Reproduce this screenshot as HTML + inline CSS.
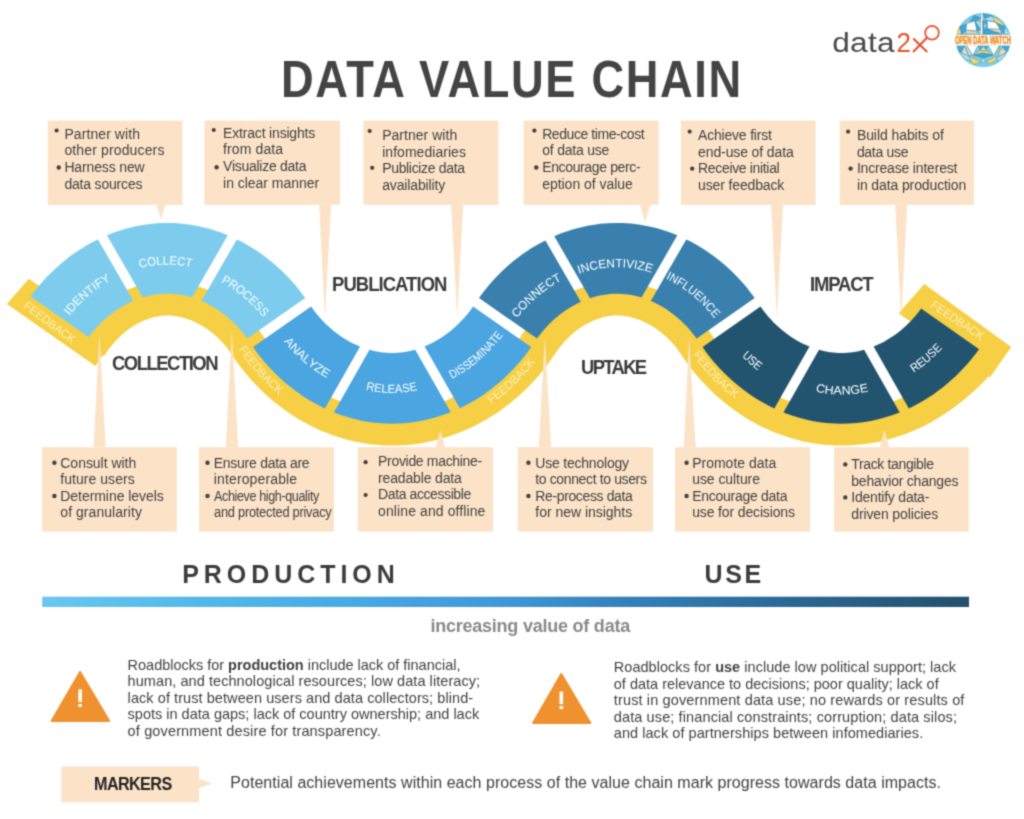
<!DOCTYPE html>
<html><head><meta charset="utf-8"><title>Data Value Chain</title>
<style>
html,body{margin:0;padding:0;background:#fff}
body{width:1024px;height:819px;position:relative;overflow:hidden;font-family:"Liberation Sans",sans-serif}
#page{position:absolute;left:0;top:0;width:1024px;height:819px;background:#fff;filter:url(#soft)}
.t{position:absolute;white-space:nowrap;line-height:1;display:block;transform-origin:0 0}
.box{position:absolute;background:#fce3c8}
.bul{position:absolute;border-radius:50%;background:#414141}

</style></head><body><svg width="0" height="0" style="position:absolute"><filter id="soft" x="0" y="0" width="100%" height="100%" color-interpolation-filters="sRGB"><feConvolveMatrix order="3" kernelMatrix="1 4 1 4 12 4 1 4 1" divisor="32" edgeMode="duplicate" preserveAlpha="true"/></filter></svg><div id="page">


<svg class="wave" width="1024" height="819" viewBox="0 0 1024 819" style="position:absolute;left:0;top:0;font-family:'Liberation Sans',sans-serif"><defs><linearGradient id="barg" x1="0" x2="1" y1="0" y2="0"><stop offset="0" stop-color="#6ac6ef"/><stop offset="0.17" stop-color="#52b8e9"/><stop offset="0.33" stop-color="#48a9e3"/><stop offset="0.5" stop-color="#3f97d8"/><stop offset="0.6" stop-color="#3585c0"/><stop offset="0.76" stop-color="#2c6e9e"/><stop offset="0.92" stop-color="#265a7c"/><stop offset="1" stop-color="#23516d"/></linearGradient></defs><rect x="47.8" y="120.6" width="134.70" height="84.30" fill="#fce3c8"/><rect x="204.4" y="120.6" width="135.60" height="84.30" fill="#fce3c8"/><rect x="363.4" y="120.6" width="135.00" height="84.30" fill="#fce3c8"/><rect x="523.6" y="120.6" width="135.00" height="84.30" fill="#fce3c8"/><rect x="680.9" y="120.6" width="134.70" height="84.30" fill="#fce3c8"/><rect x="839.7" y="120.6" width="134.30" height="84.30" fill="#fce3c8"/><rect x="41.9" y="447.2" width="135.00" height="84.40" fill="#fce3c8"/><rect x="199" y="447.2" width="135.00" height="84.40" fill="#fce3c8"/><rect x="357.8" y="447.2" width="135.30" height="84.40" fill="#fce3c8"/><rect x="517.8" y="447.2" width="135.30" height="84.40" fill="#fce3c8"/><rect x="675" y="447.2" width="135.00" height="84.40" fill="#fce3c8"/><rect x="834" y="447.2" width="134.75" height="84.40" fill="#fce3c8"/><rect x="42.2" y="596.7" width="926.8" height="10.3" fill="url(#barg)"/><rect x="61.4" y="766.4" width="137.6" height="35.8" fill="#fce3c8"/><path d="M199,779 L212.5,783.5 L199,788Z" fill="#fce3c8"/><path d="M6.9,304.0 L95.4,365.9 L103.0,355.1 L104.3,355.9 L107.8,350.6 L111.4,345.9 L115.2,341.4 L119.3,337.2 L121.9,334.8 L124.4,332.7 L126.9,330.6 L129.5,328.7 L132.3,326.8 L135.0,325.1 L137.7,323.6 L140.5,322.1 L143.5,320.8 L146.6,319.5 L149.6,318.5 L152.7,317.5 L155.7,316.8 L158.7,316.2 L161.7,315.8 L164.9,315.6 L167.8,315.5 L171.0,315.6 L174.2,315.9 L177.2,316.4 L180.5,317.0 L183.6,317.8 L186.7,318.7 L189.7,319.8 L193.3,321.2 L196.8,322.9 L200.3,324.7 L203.7,326.7 L207.1,329.0 L210.4,331.4 L213.6,334.0 L216.7,336.7 L219.2,339.1 L221.5,341.5 L223.8,344.0 L225.8,346.5 L229.3,351.0 L236.5,361.4 L239.4,365.4 L242.4,369.3 L245.8,373.6 L249.4,377.8 L253.2,382.0 L256.6,385.6 L260.9,390.0 L265.0,393.9 L269.6,398.1 L273.9,401.7 L278.9,405.6 L283.4,409.0 L288.0,412.3 L292.8,415.5 L298.2,418.9 L303.7,422.1 L309.4,425.1 L314.6,427.7 L320.4,430.4 L325.8,432.6 L331.9,434.9 L337.5,436.8 L343.8,438.8 L349.5,440.3 L355.3,441.7 L361.2,442.8 L367.2,443.8 L373.2,444.6 L379.2,445.1 L384.6,445.5 L390.7,445.6 L397.6,445.5 L403.7,445.2 L410.4,444.7 L416.4,443.9 L423.0,442.9 L429.6,441.6 L436.0,440.1 L442.4,438.4 L448.7,436.5 L454.9,434.3 L460.9,432.0 L466.9,429.5 L473.4,426.4 L479.1,423.5 L485.3,420.1 L490.8,416.8 L496.1,413.4 L501.4,409.8 L507.0,405.6 L511.9,401.7 L517.2,397.3 L521.9,393.1 L526.9,388.3 L530.8,384.3 L535.1,379.7 L539.2,375.1 L543.1,370.3 L546.5,365.9 L550.2,360.9 L557.9,349.7 L559.9,347.0 L562.1,344.4 L564.8,341.2 L567.5,338.4 L570.5,335.5 L573.4,333.0 L577.6,329.7 L581.8,326.8 L586.0,324.2 L590.4,321.9 L594.8,320.0 L599.3,318.4 L603.7,317.1 L608.4,316.2 L611.4,315.8 L614.6,315.6 L617.5,315.5 L620.6,315.6 L623.9,315.9 L627.1,316.4 L630.4,317.1 L633.5,317.9 L636.8,318.9 L639.9,320.0 L643.2,321.4 L646.2,322.9 L649.5,324.6 L652.5,326.3 L655.4,328.2 L658.3,330.2 L662.4,333.4 L666.2,336.7 L669.8,340.3 L673.2,344.0 L675.8,347.1 L678.1,350.1 L679.9,352.7 L683.8,358.4 L687.0,362.9 L690.3,367.3 L693.7,371.7 L697.7,376.4 L701.7,381.1 L706.0,385.6 L709.9,389.6 L714.4,393.9 L719.1,398.1 L723.9,402.1 L728.8,406.0 L733.8,409.8 L739.0,413.4 L744.4,416.9 L749.8,420.2 L754.8,423.0 L759.4,425.4 L764.0,427.7 L768.7,429.8 L773.5,431.9 L778.3,433.8 L783.2,435.6 L788.2,437.2 L793.2,438.8 L798.3,440.1 L803.5,441.4 L808.0,442.3 L813.3,443.3 L818.6,444.1 L823.9,444.7 L828.6,445.1 L835.4,445.5 L841.5,445.6 L847.7,445.5 L854.4,445.1 L860.5,444.6 L867.2,443.8 L873.8,442.7 L880.3,441.4 L886.7,439.8 L893.1,438.0 L899.3,436.1 L905.5,433.9 L911.6,431.5 L917.5,428.9 L923.4,426.2 L929.7,422.9 L936.4,419.1 L943.4,414.8 L949.8,410.5 L956.9,405.3 L961.4,401.8 L965.8,398.2 L970.1,394.6 L973.9,391.2 L978.0,387.3 L981.6,383.8 L985.1,380.2 L988.7,376.3 L990.0,377.3 L1011.3,347.0 L924.3,284.0 L898.6,313.2 L957.1,354.3 L953.8,358.1 L950.3,361.9 L946.7,365.7 L943.4,368.9 L939.6,372.4 L935.6,375.8 L931.6,379.1 L927.9,381.9 L923.6,385.0 L919.7,387.6 L915.3,390.4 L911.2,392.8 L906.5,395.3 L902.3,397.4 L898.0,399.4 L893.6,401.3 L889.1,403.0 L884.6,404.6 L880.0,406.1 L875.8,407.2 L871.1,408.4 L866.4,409.4 L861.6,410.2 L857.3,410.8 L852.4,411.3 L848.1,411.5 L843.2,411.7 L838.8,411.7 L834.4,411.5 L829.6,411.2 L825.2,410.7 L820.4,410.0 L816.2,409.3 L811.4,408.2 L807.2,407.2 L802.6,405.9 L798.5,404.6 L794.0,403.0 L790.0,401.5 L785.6,399.7 L781.7,397.9 L777.5,395.8 L773.3,393.6 L769.2,391.2 L765.1,388.7 L761.2,386.2 L757.3,383.5 L753.5,380.7 L750.2,378.1 L747.0,375.5 L743.9,372.8 L740.8,370.0 L734.9,364.2 L729.3,358.1 L724.6,352.7 L719.9,346.6 L715.7,340.8 L711.1,333.9 L707.1,328.5 L704.7,325.5 L702.4,322.8 L697.6,317.6 L694.6,314.6 L691.8,312.0 L688.6,309.2 L685.6,306.7 L682.2,304.2 L679.1,301.9 L675.6,299.6 L672.4,297.6 L668.4,295.3 L664.4,293.2 L660.3,291.3 L656.5,289.6 L652.3,288.0 L648.4,286.7 L644.2,285.4 L640.2,284.4 L635.9,283.5 L631.6,282.7 L627.3,282.2 L623.3,281.8 L619.0,281.6 L615.0,281.6 L611.1,281.8 L606.7,282.1 L603.1,282.6 L599.5,283.1 L595.9,283.8 L592.0,284.7 L588.4,285.7 L584.5,286.9 L581.0,288.1 L577.1,289.6 L573.7,291.1 L570.3,292.7 L566.9,294.4 L563.2,296.4 L560.0,298.4 L556.4,300.6 L553.3,302.8 L549.9,305.3 L545.1,309.2 L540.2,313.6 L535.5,318.2 L531.0,323.1 L527.7,327.0 L524.4,331.3 L522.1,334.5 L519.1,339.1 L516.5,342.9 L513.5,347.0 L510.6,350.7 L507.4,354.6 L504.0,358.5 L500.5,362.3 L497.3,365.7 L493.2,369.6 L489.4,373.1 L485.4,376.5 L481.4,379.7 L477.2,382.9 L472.9,385.9 L468.5,388.7 L464.0,391.5 L459.4,394.1 L454.8,396.5 L450.0,398.8 L445.1,400.9 L440.2,402.9 L435.6,404.5 L430.5,406.1 L425.9,407.4 L420.6,408.6 L415.9,409.6 L411.1,410.3 L406.2,410.9 L401.4,411.4 L396.5,411.6 L391.6,411.7 L386.6,411.6 L382.3,411.3 L377.4,410.9 L372.6,410.3 L367.8,409.5 L363.0,408.5 L358.3,407.4 L353.7,406.1 L349.1,404.6 L344.5,403.0 L340.1,401.3 L335.7,399.4 L330.9,397.2 L326.6,395.1 L322.0,392.5 L317.5,389.9 L313.0,387.0 L309.2,384.4 L305.3,381.6 L301.6,378.8 L297.6,375.5 L294.1,372.4 L290.6,369.3 L287.3,366.0 L283.7,362.3 L280.9,359.3 L277.8,355.8 L274.9,352.3 L272.0,348.7 L267.1,342.1 L262.1,334.5 L260.5,332.3 L257.7,328.5 L255.0,325.2 L251.4,321.0 L247.6,317.1 L243.7,313.3 L240.0,309.9 L234.9,305.8 L229.7,301.9 L224.2,298.4 L218.6,295.1 L212.9,292.2 L207.1,289.6 L201.1,287.4 L195.5,285.6 L191.9,284.7 L188.3,283.8 L184.7,283.1 L181.1,282.6 L177.5,282.1 L173.9,281.8 L170.3,281.7 L166.7,281.6 L163.1,281.7 L159.5,281.9 L155.9,282.3 L152.2,282.8 L148.6,283.4 L145.0,284.1 L141.5,285.0 L137.9,286.0 L134.4,287.1 L130.8,288.4 L127.4,289.8 L123.9,291.3 L120.5,292.9 L117.1,294.6 L113.8,296.4 L110.2,298.6 L107.0,300.6 L103.9,302.8 L100.8,305.1 L97.4,307.7 L94.5,310.2 L91.3,313.0 L88.5,315.7 L85.7,318.6 L28.8,278.7Z" fill="#f6cf45"/><path d="M98.0,239.4 L93.1,241.8 L88.1,244.5 L83.3,247.4 L78.5,250.5 L74.3,253.3 L69.7,256.6 L65.3,260.1 L61.0,263.7 L56.8,267.3 L52.7,271.2 L48.7,275.1 L44.9,279.1 L41.2,283.2 L37.6,287.5 L34.1,291.8 L30.6,296.5 L88.6,337.1 L90.7,334.3 L93.2,331.3 L95.7,328.4 L98.3,325.6 L101.0,322.9 L103.7,320.3 L106.6,317.8 L109.2,315.6 L112.2,313.3 L114.9,311.3 L118.0,309.2 L120.9,307.4 L124.1,305.5 L127.1,303.9 L130.3,302.3 L133.4,300.9Z" fill="#7dccee"/><path d="M227.8,235.3 L220.2,232.3 L213.1,229.9 L209.2,228.8 L205.2,227.7 L197.8,226.0 L190.4,224.7 L182.8,223.7 L175.1,223.1 L167.4,222.9 L159.7,223.1 L152.0,223.7 L144.4,224.7 L136.9,226.0 L129.5,227.7 L125.6,228.8 L121.7,229.9 L117.9,231.2 L114.1,232.5 L106.9,235.3 L142.8,297.5 L145.7,296.6 L148.9,295.9 L152.0,295.2 L155.2,294.6 L158.3,294.2 L161.5,293.9 L164.6,293.7 L167.4,293.7 L170.2,293.7 L173.3,293.9 L176.5,294.2 L179.6,294.6 L182.8,295.2 L185.9,295.9 L189.0,296.6 L192.0,297.5Z" fill="#7dccee"/><path d="M305.2,298.0 L301.3,292.7 L297.9,288.3 L294.3,284.1 L290.7,279.9 L286.5,275.5 L282.5,271.5 L278.4,267.7 L274.2,264.0 L269.9,260.4 L265.5,257.0 L261.0,253.7 L256.3,250.5 L251.5,247.4 L246.6,244.5 L241.7,241.8 L236.8,239.4 L201.4,300.9 L204.4,302.3 L207.7,303.9 L211.0,305.7 L214.2,307.6 L217.3,309.5 L220.4,311.7 L223.4,313.9 L226.4,316.2 L229.3,318.7 L232.1,321.2 L234.8,323.9 L237.5,326.6 L240.0,329.5 L242.5,332.4 L244.9,335.4 L247.3,338.6Z" fill="#7dccee"/><path d="M360.1,346.6 L356.6,345.1 L353.0,343.4 L349.7,341.7 L346.2,339.7 L343.0,337.7 L339.7,335.5 L336.3,333.0 L333.1,330.5 L330.2,328.1 L327.2,325.3 L324.2,322.4 L321.3,319.3 L318.8,316.5 L316.1,313.3 L313.5,309.9 L311.1,306.5 L253.1,347.1 L256.5,351.9 L260.2,356.7 L264.1,361.4 L268.1,366.0 L272.3,370.5 L276.6,374.8 L281.1,379.0 L285.2,382.7 L290.0,386.6 L294.4,390.1 L299.5,393.7 L304.1,396.9 L309.4,400.2 L314.3,403.0 L319.4,405.7 L324.9,408.4Z" fill="#4aa5e0"/><path d="M415.2,349.7 L411.9,350.6 L409.0,351.2 L403.4,352.2 L397.7,352.8 L394.9,353.0 L392.1,353.0 L389.3,353.0 L386.5,352.8 L380.8,352.2 L375.2,351.2 L369.5,349.8 L333.9,412.4 L340.9,415.0 L348.1,417.3 L355.4,419.3 L362.8,420.9 L370.3,422.2 L377.3,423.1 L385.0,423.6 L392.1,423.8 L399.2,423.6 L406.9,423.1 L414.5,422.1 L422.0,420.8 L429.4,419.1 L436.7,417.1 L443.8,414.8 L450.8,412.2Z" fill="#4aa5e0"/><path d="M473.1,306.5 L470.5,310.2 L467.9,313.5 L465.2,316.7 L462.6,319.6 L459.8,322.6 L457.0,325.3 L454.0,328.1 L451.1,330.5 L447.9,333.0 L444.8,335.3 L441.5,337.6 L438.3,339.5 L434.8,341.5 L431.6,343.3 L428.2,344.8 L424.6,346.4 L459.8,408.2 L464.9,405.7 L469.9,403.0 L474.8,400.2 L480.1,396.9 L484.8,393.7 L489.8,390.1 L494.2,386.6 L499.0,382.7 L503.2,379.0 L507.6,374.8 L511.9,370.5 L516.1,366.0 L520.1,361.4 L524.0,356.7 L527.7,351.9 L531.1,347.1Z" fill="#4aa5e0"/><path d="M545.4,240.4 L540.6,242.9 L535.6,245.7 L531.2,248.3 L526.5,251.4 L522.3,254.3 L517.8,257.7 L513.4,261.1 L509.1,264.7 L504.9,268.5 L500.9,272.3 L497.0,276.3 L493.2,280.3 L489.5,284.5 L486.0,288.7 L482.6,293.1 L479.0,298.0 L537.0,338.6 L539.1,335.7 L541.5,332.7 L544.0,329.7 L546.5,326.9 L549.2,324.1 L551.6,321.7 L554.4,319.1 L557.0,316.9 L560.0,314.5 L562.7,312.5 L565.8,310.3 L568.6,308.4 L571.8,306.5 L574.7,304.9 L577.7,303.3 L580.8,301.8Z" fill="#3980ae"/><path d="M677.3,235.3 L669.6,232.3 L665.8,231.0 L661.9,229.8 L658.0,228.6 L654.1,227.6 L646.7,225.9 L642.7,225.2 L638.6,224.5 L631.0,223.6 L623.4,223.1 L615.6,222.9 L607.9,223.2 L600.3,223.8 L592.7,224.9 L588.7,225.6 L584.7,226.4 L577.3,228.2 L573.4,229.3 L569.5,230.5 L561.9,233.1 L558.1,234.6 L554.3,236.2 L590.0,298.2 L593.3,297.2 L596.4,296.3 L599.9,295.5 L603.0,294.9 L606.5,294.4 L609.6,294.0 L612.8,293.8 L615.9,293.7 L619.0,293.7 L622.1,293.9 L625.3,294.2 L628.7,294.6 L631.9,295.1 L635.0,295.8 L638.2,296.6 L641.5,297.5Z" fill="#3980ae"/><path d="M754.7,298.0 L750.7,292.7 L747.3,288.3 L743.8,284.1 L740.1,279.9 L735.9,275.5 L731.9,271.5 L727.9,267.7 L723.7,264.0 L719.4,260.4 L714.9,257.0 L710.4,253.7 L705.7,250.5 L701.0,247.4 L696.1,244.5 L691.1,241.8 L686.3,239.4 L650.8,300.9 L653.9,302.3 L657.2,303.9 L660.4,305.7 L663.6,307.6 L666.8,309.5 L669.8,311.7 L672.9,313.9 L675.8,316.2 L678.7,318.7 L681.5,321.2 L684.2,323.9 L686.9,326.6 L689.5,329.5 L691.9,332.4 L694.3,335.4 L696.7,338.6Z" fill="#3980ae"/><path d="M809.5,346.6 L806.0,345.1 L802.4,343.4 L799.1,341.7 L795.6,339.7 L792.5,337.7 L789.1,335.5 L785.8,333.0 L782.6,330.5 L779.7,328.1 L776.6,325.3 L773.6,322.4 L770.8,319.3 L768.2,316.5 L765.5,313.3 L763.0,309.9 L760.5,306.5 L702.6,347.1 L706.0,351.9 L709.7,356.7 L713.5,361.4 L717.5,366.0 L721.7,370.5 L726.0,374.8 L730.5,379.0 L734.7,382.7 L739.4,386.6 L743.9,390.1 L748.9,393.7 L753.6,396.9 L758.9,400.2 L763.8,403.0 L768.8,405.7 L774.3,408.4Z" fill="#22546f"/><path d="M864.1,349.8 L858.5,351.2 L852.8,352.2 L847.2,352.8 L844.3,353.0 L841.5,353.0 L838.7,353.0 L835.9,352.8 L830.3,352.2 L824.6,351.2 L819.0,349.8 L783.4,412.4 L790.4,415.0 L797.5,417.3 L804.8,419.3 L812.2,420.9 L819.7,422.2 L826.7,423.1 L834.4,423.6 L841.5,423.8 L848.7,423.6 L856.3,423.1 L863.3,422.2 L870.8,420.9 L878.3,419.3 L885.5,417.3 L892.7,415.0 L899.7,412.4Z" fill="#22546f"/><path d="M921.1,308.6 L918.4,312.2 L916.0,315.2 L913.5,318.1 L910.9,320.9 L908.0,323.8 L905.2,326.4 L902.4,329.0 L899.5,331.4 L896.2,333.9 L893.2,336.0 L890.0,338.1 L886.9,340.0 L883.7,341.9 L880.4,343.5 L877.1,345.1 L873.6,346.6 L908.8,408.4 L913.8,406.0 L918.8,403.3 L923.7,400.5 L928.5,397.5 L933.3,394.4 L937.8,391.1 L942.3,387.7 L947.1,383.8 L951.3,380.1 L955.9,376.0 L959.8,372.1 L964.0,367.6 L967.8,363.5 L971.7,358.8 L975.5,354.1 L979.1,349.2Z" fill="#22546f"/><g font-size="12" fill="#fff" opacity="1"><text transform="translate(70.50,314.38) rotate(-50.6) scale(1.003,1)" text-anchor="middle">I</text><text transform="translate(74.41,309.81) rotate(-48.2) scale(1.003,1)" text-anchor="middle">D</text><text transform="translate(80.16,303.73) rotate(-45.0) scale(1.003,1)" text-anchor="middle">E</text><text transform="translate(86.24,298.00) rotate(-41.6) scale(1.003,1)" text-anchor="middle">N</text><text transform="translate(92.39,292.85) rotate(-38.3) scale(1.003,1)" text-anchor="middle">T</text><text transform="translate(96.65,289.61) rotate(-36.1) scale(1.003,1)" text-anchor="middle">I</text><text transform="translate(101.03,286.54) rotate(-33.9) scale(1.003,1)" text-anchor="middle">F</text><text transform="translate(107.53,282.44) rotate(-30.6) scale(1.003,1)" text-anchor="middle">Y</text></g><g font-size="12" fill="#fff" opacity="1"><text transform="translate(143.79,267.19) rotate(-12.3) scale(0.946,1)" text-anchor="middle">C</text><text transform="translate(152.17,265.69) rotate(-8.0) scale(0.946,1)" text-anchor="middle">O</text><text transform="translate(159.70,264.89) rotate(-4.1) scale(0.946,1)" text-anchor="middle">L</text><text transform="translate(166.00,264.62) rotate(-0.8) scale(0.946,1)" text-anchor="middle">L</text><text transform="translate(172.94,264.76) rotate(3.0) scale(0.946,1)" text-anchor="middle">E</text><text transform="translate(180.79,265.45) rotate(7.1) scale(0.946,1)" text-anchor="middle">C</text><text transform="translate(188.26,266.63) rotate(10.9) scale(0.946,1)" text-anchor="middle">T</text></g><g font-size="12" fill="#fff" opacity="1"><text transform="translate(224.38,283.79) rotate(29.8) scale(0.943,1)" text-anchor="middle">P</text><text transform="translate(231.08,287.90) rotate(33.2) scale(0.943,1)" text-anchor="middle">R</text><text transform="translate(238.03,292.77) rotate(36.9) scale(0.943,1)" text-anchor="middle">O</text><text transform="translate(244.65,298.08) rotate(40.4) scale(0.943,1)" text-anchor="middle">C</text><text transform="translate(250.49,303.34) rotate(43.7) scale(0.943,1)" text-anchor="middle">E</text><text transform="translate(255.81,308.70) rotate(46.7) scale(0.943,1)" text-anchor="middle">S</text><text transform="translate(260.84,314.32) rotate(49.7) scale(0.943,1)" text-anchor="middle">S</text></g><g font-size="12" fill="#fff" opacity="1"><text transform="translate(286.57,344.73) rotate(49.1) scale(1.039,1)" text-anchor="middle">A</text><text transform="translate(292.41,351.13) rotate(46.1) scale(1.039,1)" text-anchor="middle">N</text><text transform="translate(298.59,357.20) rotate(42.9) scale(1.039,1)" text-anchor="middle">A</text><text transform="translate(304.30,362.26) rotate(40.1) scale(1.039,1)" text-anchor="middle">L</text><text transform="translate(310.25,367.03) rotate(37.3) scale(1.039,1)" text-anchor="middle">Y</text><text transform="translate(316.71,371.69) rotate(34.3) scale(1.039,1)" text-anchor="middle">Z</text><text transform="translate(323.41,376.00) rotate(31.2) scale(1.039,1)" text-anchor="middle">E</text></g><g font-size="12" fill="#fff" opacity="1"><text transform="translate(369.70,390.81) rotate(10.7) scale(0.945,1)" text-anchor="middle">R</text><text transform="translate(377.48,392.02) rotate(7.0) scale(0.945,1)" text-anchor="middle">E</text><text transform="translate(384.39,392.68) rotate(3.7) scale(0.945,1)" text-anchor="middle">L</text><text transform="translate(391.32,392.93) rotate(0.4) scale(0.945,1)" text-anchor="middle">E</text><text transform="translate(398.88,392.73) rotate(-3.3) scale(0.945,1)" text-anchor="middle">A</text><text transform="translate(406.42,392.06) rotate(-6.9) scale(0.945,1)" text-anchor="middle">S</text><text transform="translate(413.90,390.93) rotate(-10.4) scale(0.945,1)" text-anchor="middle">E</text></g><g font-size="12" fill="#fff" opacity="1"><text transform="translate(455.25,377.23) rotate(-29.1) scale(0.834,1)" text-anchor="middle">D</text><text transform="translate(459.58,374.73) rotate(-31.1) scale(0.834,1)" text-anchor="middle">I</text><text transform="translate(463.59,372.22) rotate(-32.9) scale(0.834,1)" text-anchor="middle">S</text><text transform="translate(469.11,368.47) rotate(-35.5) scale(0.834,1)" text-anchor="middle">S</text><text transform="translate(474.46,364.47) rotate(-38.0) scale(0.834,1)" text-anchor="middle">E</text><text transform="translate(480.25,359.70) rotate(-40.9) scale(0.834,1)" text-anchor="middle">M</text><text transform="translate(484.39,355.99) rotate(-42.9) scale(0.834,1)" text-anchor="middle">I</text><text transform="translate(488.00,352.53) rotate(-44.7) scale(0.834,1)" text-anchor="middle">N</text><text transform="translate(492.83,347.53) rotate(-47.2) scale(0.834,1)" text-anchor="middle">A</text><text transform="translate(497.07,342.75) rotate(-49.5) scale(0.834,1)" text-anchor="middle">T</text><text transform="translate(501.13,337.80) rotate(-51.8) scale(0.834,1)" text-anchor="middle">E</text></g><g font-size="12" fill="#fff" opacity="1"><text transform="translate(519.85,314.97) rotate(-50.8) scale(1.000,1)" text-anchor="middle">C</text><text transform="translate(525.76,308.17) rotate(-47.3) scale(1.000,1)" text-anchor="middle">O</text><text transform="translate(532.07,301.76) rotate(-43.7) scale(1.000,1)" text-anchor="middle">N</text><text transform="translate(538.51,295.96) rotate(-40.2) scale(1.000,1)" text-anchor="middle">N</text><text transform="translate(545.03,290.77) rotate(-36.8) scale(1.000,1)" text-anchor="middle">E</text><text transform="translate(551.86,285.99) rotate(-33.2) scale(1.000,1)" text-anchor="middle">C</text><text transform="translate(558.68,281.81) rotate(-29.8) scale(1.000,1)" text-anchor="middle">T</text></g><g font-size="12" fill="#fff" opacity="1"><text transform="translate(580.58,273.44) rotate(-19.0) scale(0.989,1)" text-anchor="middle">I</text><text transform="translate(586.24,271.65) rotate(-16.2) scale(0.989,1)" text-anchor="middle">N</text><text transform="translate(594.55,269.57) rotate(-11.9) scale(0.989,1)" text-anchor="middle">C</text><text transform="translate(602.67,268.17) rotate(-7.6) scale(0.989,1)" text-anchor="middle">E</text><text transform="translate(610.87,267.39) rotate(-3.3) scale(0.989,1)" text-anchor="middle">N</text><text transform="translate(618.78,267.24) rotate(1.1) scale(0.989,1)" text-anchor="middle">T</text><text transform="translate(624.05,267.47) rotate(3.9) scale(0.989,1)" text-anchor="middle">I</text><text transform="translate(629.63,268.00) rotate(6.9) scale(0.989,1)" text-anchor="middle">V</text><text transform="translate(635.17,268.82) rotate(9.8) scale(0.989,1)" text-anchor="middle">I</text><text transform="translate(640.34,269.84) rotate(12.5) scale(0.989,1)" text-anchor="middle">Z</text><text transform="translate(647.68,271.73) rotate(16.3) scale(0.989,1)" text-anchor="middle">E</text></g><g font-size="12" fill="#fff" opacity="1"><text transform="translate(667.17,279.30) rotate(26.2) scale(0.939,1)" text-anchor="middle">I</text><text transform="translate(672.16,281.89) rotate(28.7) scale(0.939,1)" text-anchor="middle">N</text><text transform="translate(678.64,285.69) rotate(32.0) scale(0.939,1)" text-anchor="middle">F</text><text transform="translate(684.12,289.31) rotate(34.9) scale(0.939,1)" text-anchor="middle">L</text><text transform="translate(689.92,293.58) rotate(37.9) scale(0.939,1)" text-anchor="middle">U</text><text transform="translate(695.95,298.56) rotate(41.2) scale(0.939,1)" text-anchor="middle">E</text><text transform="translate(701.70,303.87) rotate(44.3) scale(0.939,1)" text-anchor="middle">N</text><text transform="translate(707.35,309.72) rotate(47.6) scale(0.939,1)" text-anchor="middle">C</text><text transform="translate(712.47,315.63) rotate(50.6) scale(0.939,1)" text-anchor="middle">E</text></g><g font-size="12" fill="#fff" opacity="1"><text transform="translate(744.42,358.95) rotate(43.4) scale(0.885,1)" text-anchor="middle">U</text><text transform="translate(749.89,363.90) rotate(40.8) scale(0.885,1)" text-anchor="middle">S</text><text transform="translate(755.36,368.41) rotate(38.3) scale(0.885,1)" text-anchor="middle">E</text></g><g font-size="12" fill="#fff" opacity="1"><text transform="translate(819.84,392.57) rotate(10.2) scale(1.045,1)" text-anchor="middle">C</text><text transform="translate(828.80,393.85) rotate(6.0) scale(1.045,1)" text-anchor="middle">H</text><text transform="translate(837.49,394.46) rotate(1.9) scale(1.045,1)" text-anchor="middle">A</text><text transform="translate(846.19,394.44) rotate(-2.2) scale(1.045,1)" text-anchor="middle">N</text><text transform="translate(855.57,393.71) rotate(-6.7) scale(1.045,1)" text-anchor="middle">G</text><text transform="translate(864.52,392.33) rotate(-10.8) scale(1.045,1)" text-anchor="middle">E</text></g><g font-size="12" fill="#fff" opacity="1"><text transform="translate(916.96,370.39) rotate(-34.6) scale(0.915,1)" text-anchor="middle">R</text><text transform="translate(923.13,365.91) rotate(-37.5) scale(0.915,1)" text-anchor="middle">E</text><text transform="translate(929.06,361.12) rotate(-40.3) scale(0.915,1)" text-anchor="middle">U</text><text transform="translate(934.75,356.04) rotate(-43.1) scale(0.915,1)" text-anchor="middle">S</text><text transform="translate(939.98,350.91) rotate(-45.8) scale(0.915,1)" text-anchor="middle">E</text></g><g font-size="12" fill="#fdf0b4" opacity="1"><text transform="translate(240.45,352.04) rotate(56.0) scale(0.948,1)" text-anchor="middle">F</text><text transform="translate(244.62,357.99) rotate(54.0) scale(0.948,1)" text-anchor="middle">E</text><text transform="translate(249.20,364.05) rotate(51.9) scale(0.948,1)" text-anchor="middle">E</text><text transform="translate(254.19,370.18) rotate(49.7) scale(0.948,1)" text-anchor="middle">D</text><text transform="translate(259.42,376.10) rotate(47.5) scale(0.948,1)" text-anchor="middle">B</text><text transform="translate(264.66,381.60) rotate(45.3) scale(0.948,1)" text-anchor="middle">A</text><text transform="translate(270.33,387.10) rotate(43.0) scale(0.948,1)" text-anchor="middle">C</text><text transform="translate(276.21,392.38) rotate(40.7) scale(0.948,1)" text-anchor="middle">K</text></g><g font-size="12" fill="#fdf0b4" opacity="1"><text transform="translate(493.90,402.10) rotate(-35.7) scale(0.948,1)" text-anchor="middle">F</text><text transform="translate(499.73,397.74) rotate(-37.9) scale(0.948,1)" text-anchor="middle">E</text><text transform="translate(505.63,392.97) rotate(-40.1) scale(0.948,1)" text-anchor="middle">E</text><text transform="translate(511.57,387.76) rotate(-42.4) scale(0.948,1)" text-anchor="middle">D</text><text transform="translate(517.30,382.31) rotate(-44.7) scale(0.948,1)" text-anchor="middle">B</text><text transform="translate(522.59,376.87) rotate(-46.9) scale(0.948,1)" text-anchor="middle">A</text><text transform="translate(527.88,371.00) rotate(-49.1) scale(0.948,1)" text-anchor="middle">C</text><text transform="translate(532.94,364.93) rotate(-51.3) scale(0.948,1)" text-anchor="middle">K</text></g><g font-size="12" fill="#fdf0b4" opacity="1"><text transform="translate(694.69,357.20) rotate(54.1) scale(0.948,1)" text-anchor="middle">F</text><text transform="translate(699.06,363.01) rotate(52.0) scale(0.948,1)" text-anchor="middle">E</text><text transform="translate(703.84,368.90) rotate(49.9) scale(0.948,1)" text-anchor="middle">E</text><text transform="translate(709.05,374.85) rotate(47.7) scale(0.948,1)" text-anchor="middle">D</text><text transform="translate(714.48,380.59) rotate(45.4) scale(0.948,1)" text-anchor="middle">B</text><text transform="translate(719.91,385.89) rotate(43.2) scale(0.948,1)" text-anchor="middle">A</text><text transform="translate(725.78,391.19) rotate(40.9) scale(0.948,1)" text-anchor="middle">C</text><text transform="translate(731.85,396.25) rotate(38.6) scale(0.948,1)" text-anchor="middle">K</text></g><g font-size="12" fill="#fdf0b4" opacity="1"><text transform="translate(25.53,309.36) rotate(36.7) scale(0.948,1)" text-anchor="middle">F</text><text transform="translate(31.36,313.70) rotate(36.7) scale(0.948,1)" text-anchor="middle">E</text><text transform="translate(37.44,318.24) rotate(36.7) scale(0.948,1)" text-anchor="middle">E</text><text transform="translate(43.78,322.96) rotate(36.7) scale(0.948,1)" text-anchor="middle">D</text><text transform="translate(50.12,327.69) rotate(36.7) scale(0.948,1)" text-anchor="middle">B</text><text transform="translate(56.21,332.22) rotate(36.7) scale(0.948,1)" text-anchor="middle">A</text><text transform="translate(62.54,336.95) rotate(36.7) scale(0.948,1)" text-anchor="middle">C</text><text transform="translate(68.88,341.67) rotate(36.7) scale(0.948,1)" text-anchor="middle">K</text></g><g font-size="12" fill="#fdf0b4" opacity="1"><text transform="translate(932.64,308.63) rotate(33.5) scale(0.948,1)" text-anchor="middle">F</text><text transform="translate(938.71,312.65) rotate(33.5) scale(0.948,1)" text-anchor="middle">E</text><text transform="translate(945.04,316.84) rotate(33.5) scale(0.948,1)" text-anchor="middle">E</text><text transform="translate(951.63,321.20) rotate(33.5) scale(0.948,1)" text-anchor="middle">D</text><text transform="translate(958.22,325.56) rotate(33.5) scale(0.948,1)" text-anchor="middle">B</text><text transform="translate(964.55,329.75) rotate(33.5) scale(0.948,1)" text-anchor="middle">A</text><text transform="translate(971.14,334.11) rotate(33.5) scale(0.948,1)" text-anchor="middle">C</text><text transform="translate(977.73,338.48) rotate(33.5) scale(0.948,1)" text-anchor="middle">K</text></g><path d="M156.5,204.8 L165.3,204.8 L160.9,219.3Z" fill="#fce3c8" opacity="1"/><path d="M319.1,204.8 L331.2,204.8 L324.8,317.8Z" fill="#fce3c8" opacity="1"/><path d="M451.1,204.8 L463.2,204.8 L457.2,318.3Z" fill="#fce3c8" opacity="1"/><path d="M640.2,204.8 L650.1,204.8 L645.0,222.5Z" fill="#fce3c8" opacity="1"/><path d="M771.1,204.8 L783.2,204.8 L776.8,318.3Z" fill="#fce3c8" opacity="1"/><path d="M895.1,204.8 L907.2,204.8 L901.2,318.3Z" fill="#fce3c8" opacity="1"/><path d="M93.5,447.3 L105.7,447.3 L99.4,333.7Z" fill="#fce3c8" opacity="1"/><path d="M225.7,447.3 L238.2,447.3 L231.9,330.5Z" fill="#fce3c8" opacity="1"/><path d="M435.8,447.3 L445.1,447.3 L440.5,430.0Z" fill="#fce3c8" opacity="1"/><path d="M538.8,447.3 L551.2,447.3 L544.8,336.9Z" fill="#fce3c8" opacity="1"/><path d="M683.8,447.3 L695.7,447.3 L689.0,336.9Z" fill="#fce3c8" opacity="1"/><path d="M879.9,447.3 L889.3,447.3 L884.4,430.25Z" fill="#fce3c8" opacity="1"/><circle cx="56.6" cy="130.5" r="2.1" fill="#414141"/><circle cx="58.75" cy="167.5" r="2.2" fill="#414141"/><circle cx="213.75" cy="130" r="2.1" fill="#414141"/><circle cx="216.6" cy="167.2" r="2.2" fill="#414141"/><circle cx="369.7" cy="131" r="2.1" fill="#414141"/><circle cx="372.2" cy="167.8" r="2.1" fill="#414141"/><circle cx="534.4" cy="130.6" r="2.1" fill="#414141"/><circle cx="536.25" cy="167.5" r="2.2" fill="#414141"/><circle cx="689.7" cy="131.6" r="2.1" fill="#414141"/><circle cx="692.2" cy="168.6" r="2.2" fill="#414141"/><circle cx="848.1" cy="131.6" r="2.1" fill="#414141"/><circle cx="850.6" cy="168.6" r="2.2" fill="#414141"/><circle cx="54.4" cy="462.8" r="2.2" fill="#414141"/><circle cx="54.4" cy="496" r="2.2" fill="#414141"/><circle cx="207.5" cy="462.8" r="2.2" fill="#414141"/><circle cx="207.5" cy="496" r="2.2" fill="#414141"/><circle cx="365.6" cy="462.2" r="2.1" fill="#414141"/><circle cx="365.6" cy="495" r="2.1" fill="#414141"/><circle cx="528.4" cy="462.8" r="2.2" fill="#414141"/><circle cx="528.4" cy="496" r="2.2" fill="#414141"/><circle cx="686.6" cy="462.8" r="2.2" fill="#414141"/><circle cx="686.6" cy="496" r="2.2" fill="#414141"/><circle cx="845.3" cy="464.4" r="2.2" fill="#414141"/><circle cx="845.3" cy="497.4" r="2.2" fill="#414141"/></svg>
<span class="t" style="left:64.40px;top:126.90px;font-size:14px;font-weight:400;color:#414141;letter-spacing:0.082px;">Partner with</span><span class="t" style="left:64.40px;top:143.45px;font-size:14px;font-weight:400;color:#414141;letter-spacing:0.138px;">other producers</span><span class="t" style="left:64.40px;top:160.15px;font-size:14px;font-weight:400;color:#414141;letter-spacing:-0.140px;">Harness new</span><span class="t" style="left:64.40px;top:176.85px;font-size:14px;font-weight:400;color:#414141;letter-spacing:-0.188px;">data sources</span><span class="t" style="left:223.10px;top:125.95px;font-size:14px;font-weight:400;color:#414141;letter-spacing:-0.182px;">Extract insights</span><span class="t" style="left:223.10px;top:142.45px;font-size:14px;font-weight:400;color:#414141;letter-spacing:0.107px;">from data</span><span class="t" style="left:223.10px;top:159.15px;font-size:14px;font-weight:400;color:#414141;letter-spacing:-0.271px;">Visualize data</span><span class="t" style="left:223.10px;top:175.85px;font-size:14px;font-weight:400;color:#414141;letter-spacing:-0.036px;">in clear manner</span><span class="t" style="left:382.20px;top:128.15px;font-size:14px;font-weight:400;color:#414141;letter-spacing:0.027px;">Partner with</span><span class="t" style="left:382.20px;top:144.75px;font-size:14px;font-weight:400;color:#414141;letter-spacing:0.040px;">infomediaries</span><span class="t" style="left:382.20px;top:161.25px;font-size:14px;font-weight:400;color:#414141;letter-spacing:-0.336px;">Publicize data</span><span class="t" style="left:382.20px;top:177.75px;font-size:14px;font-weight:400;color:#414141;letter-spacing:-0.136px;">availability</span><span class="t" style="left:542.20px;top:126.90px;font-size:14px;font-weight:400;color:#414141;letter-spacing:-0.429px;">Reduce time-cost</span><span class="t" style="left:542.20px;top:143.45px;font-size:14px;font-weight:400;color:#414141;letter-spacing:-0.208px;">of data use</span><span class="t" style="left:542.20px;top:160.15px;font-size:14px;font-weight:400;color:#414141;letter-spacing:-0.365px;">Encourage perc-</span><span class="t" style="left:542.20px;top:176.85px;font-size:14px;font-weight:400;color:#414141;letter-spacing:-0.034px;">eption of value</span><span class="t" style="left:698.10px;top:128.15px;font-size:14px;font-weight:400;color:#414141;letter-spacing:-0.208px;">Achieve first</span><span class="t" style="left:698.10px;top:144.75px;font-size:14px;font-weight:400;color:#414141;letter-spacing:-0.121px;">end-use of data</span><span class="t" style="left:698.10px;top:161.25px;font-size:14px;font-weight:400;color:#414141;letter-spacing:-0.341px;">Receive initial</span><span class="t" style="left:698.10px;top:177.75px;font-size:14px;font-weight:400;color:#414141;letter-spacing:-0.142px;">user feedback</span><span class="t" style="left:856.90px;top:128.15px;font-size:14px;font-weight:400;color:#414141;letter-spacing:-0.075px;">Build habits of</span><span class="t" style="left:856.90px;top:144.75px;font-size:14px;font-weight:400;color:#414141;letter-spacing:-0.303px;">data use</span><span class="t" style="left:856.90px;top:161.25px;font-size:14px;font-weight:400;color:#414141;letter-spacing:-0.181px;">Increase interest</span><span class="t" style="left:856.90px;top:177.75px;font-size:14px;font-weight:400;color:#414141;letter-spacing:-0.112px;">in data production</span><span class="t" style="left:60.30px;top:455.65px;font-size:14px;font-weight:400;color:#414141;letter-spacing:-0.033px;">Consult with</span><span class="t" style="left:60.30px;top:472.15px;font-size:14px;font-weight:400;color:#414141;letter-spacing:0.042px;">future users</span><span class="t" style="left:60.30px;top:488.75px;font-size:14px;font-weight:400;color:#414141;letter-spacing:-0.058px;">Determine levels</span><span class="t" style="left:60.30px;top:505.25px;font-size:14px;font-weight:400;color:#414141;letter-spacing:0.051px;">of granularity</span><span class="t" style="left:213.75px;top:455.65px;font-size:14px;font-weight:400;color:#414141;letter-spacing:-0.266px;">Ensure data are</span><span class="t" style="left:213.75px;top:472.15px;font-size:14px;font-weight:400;color:#414141;letter-spacing:0.139px;">interoperable</span><span class="t" style="left:213.75px;top:488.75px;font-size:14px;font-weight:400;color:#414141;letter-spacing:-0.437px;transform:scaleX(0.900);">Achieve high-quality</span><span class="t" style="left:213.75px;top:505.25px;font-size:14px;font-weight:400;color:#414141;letter-spacing:-0.291px;transform:scaleX(0.920);">and protected privacy</span><span class="t" style="left:378.10px;top:454.40px;font-size:14px;font-weight:400;color:#414141;letter-spacing:-0.323px;">Provide machine-</span><span class="t" style="left:378.10px;top:470.75px;font-size:14px;font-weight:400;color:#414141;letter-spacing:-0.158px;">readable data</span><span class="t" style="left:378.10px;top:487.15px;font-size:14px;font-weight:400;color:#414141;letter-spacing:-0.409px;">Data accessible</span><span class="t" style="left:378.10px;top:503.55px;font-size:14px;font-weight:400;color:#414141;letter-spacing:0.094px;">online and offline</span><span class="t" style="left:535.30px;top:455.65px;font-size:14px;font-weight:400;color:#414141;letter-spacing:-0.213px;">Use technology</span><span class="t" style="left:535.30px;top:472.15px;font-size:14px;font-weight:400;color:#414141;letter-spacing:-0.372px;">to connect to users</span><span class="t" style="left:535.30px;top:488.75px;font-size:14px;font-weight:400;color:#414141;letter-spacing:-0.373px;">Re-process data</span><span class="t" style="left:535.30px;top:505.25px;font-size:14px;font-weight:400;color:#414141;letter-spacing:-0.025px;">for new insights</span><span class="t" style="left:692.20px;top:455.65px;font-size:14px;font-weight:400;color:#414141;letter-spacing:-0.006px;">Promote data</span><span class="t" style="left:692.20px;top:472.15px;font-size:14px;font-weight:400;color:#414141;letter-spacing:-0.068px;">use culture</span><span class="t" style="left:692.20px;top:488.75px;font-size:14px;font-weight:400;color:#414141;letter-spacing:-0.274px;">Encourage data</span><span class="t" style="left:692.20px;top:505.25px;font-size:14px;font-weight:400;color:#414141;letter-spacing:-0.141px;">use for decisions</span><span class="t" style="left:851.25px;top:457.15px;font-size:14px;font-weight:400;color:#414141;letter-spacing:-0.356px;">Track tangible</span><span class="t" style="left:851.25px;top:473.75px;font-size:14px;font-weight:400;color:#414141;letter-spacing:-0.222px;">behavior changes</span><span class="t" style="left:851.25px;top:490.25px;font-size:14px;font-weight:400;color:#414141;letter-spacing:-0.218px;">Identify data-</span><span class="t" style="left:851.25px;top:506.85px;font-size:14px;font-weight:400;color:#414141;letter-spacing:-0.130px;">driven policies</span><span class="t" style="left:281.40px;top:52.68px;font-size:52px;font-weight:700;color:#444444;letter-spacing:1.884px;transform:scaleX(0.870);">DATA VALUE CHAIN</span><span class="t" style="left:112.30px;top:351.92px;font-size:21px;font-weight:700;color:#3a3a3a;letter-spacing:-1.720px;transform:scaleX(0.880);">COLLECTION</span><span class="t" style="left:332.00px;top:273.22px;font-size:21px;font-weight:700;color:#3a3a3a;letter-spacing:-1.080px;transform:scaleX(0.880);">PUBLICATION</span><span class="t" style="left:581.10px;top:355.82px;font-size:21px;font-weight:700;color:#3a3a3a;letter-spacing:-1.934px;transform:scaleX(0.880);">UPTAKE</span><span class="t" style="left:810.40px;top:273.22px;font-size:21px;font-weight:700;color:#3a3a3a;letter-spacing:-1.333px;transform:scaleX(0.880);">IMPACT</span><span class="t" style="left:182.20px;top:561.54px;font-size:25px;font-weight:700;color:#3c3c3c;letter-spacing:4.949px;">PRODUCTION</span><span class="t" style="left:704.40px;top:561.94px;font-size:25px;font-weight:700;color:#3c3c3c;letter-spacing:2.697px;">USE</span><span class="t" style="left:430.40px;top:617.26px;font-size:18px;font-weight:700;color:#8a8a8a;letter-spacing:-0.229px;">increasing value of data</span><span class="t" style="left:127.60px;top:657.53px;font-size:14.5px;font-weight:400;color:#424242;letter-spacing:-0.016px;">Roadblocks for <b>production</b> include lack of financial,</span><span class="t" style="left:127.60px;top:674.16px;font-size:14.5px;font-weight:400;color:#424242;letter-spacing:0.066px;">human, and technological resources; low data literacy;</span><span class="t" style="left:127.60px;top:690.79px;font-size:14.5px;font-weight:400;color:#424242;letter-spacing:0.070px;">lack of trust between users and data collectors; blind-</span><span class="t" style="left:127.60px;top:707.42px;font-size:14.5px;font-weight:400;color:#424242;letter-spacing:0.003px;">spots in data gaps; lack of country ownership; and lack</span><span class="t" style="left:127.60px;top:724.05px;font-size:14.5px;font-weight:400;color:#424242;letter-spacing:0.139px;">of government desire for transparency.</span><span class="t" style="left:613.80px;top:660.23px;font-size:14.5px;font-weight:400;color:#424242;letter-spacing:0.039px;">Roadblocks for <b>use</b> include low political support; lack</span><span class="t" style="left:613.80px;top:676.73px;font-size:14.5px;font-weight:400;color:#424242;letter-spacing:0.001px;">of data relevance to decisions; poor quality; lack of</span><span class="t" style="left:613.80px;top:693.23px;font-size:14.5px;font-weight:400;color:#424242;letter-spacing:0.137px;">trust in government data use; no rewards or results of</span><span class="t" style="left:613.80px;top:709.73px;font-size:14.5px;font-weight:400;color:#424242;letter-spacing:0.114px;">data use; financial constraints; corruption; data silos;</span><span class="t" style="left:613.80px;top:726.23px;font-size:14.5px;font-weight:400;color:#424242;letter-spacing:0.050px;">and lack of partnerships between infomediaries.</span><span class="t" style="left:93.70px;top:774.56px;font-size:18px;font-weight:700;color:#242424;letter-spacing:-0.688px;transform:scaleX(0.900);">MARKERS</span><span class="t" style="left:230.30px;top:774.96px;font-size:16px;font-weight:400;color:#424242;letter-spacing:0.038px;">Potential achievements within each process of the value chain mark progress towards data impacts.</span>
<svg width="1024" height="819" viewBox="0 0 1024 819" style="position:absolute;left:0;top:0;font-family:'Liberation Sans',sans-serif"><path d="M80.1,671.9 L109.19999999999999,721.0 L51.6,721.0Z" fill="#f0912f" stroke="#f0912f" stroke-width="2.0" stroke-linejoin="round"/><rect x="78.30" y="689.40" width="3.6" height="12.6" fill="#fff"/><rect x="78.30" y="703.90" width="3.6" height="3.0" fill="#fff"/><path d="M561.3,674.1 L590.3000000000001,723.1 L533.1,723.1Z" fill="#f0912f" stroke="#f0912f" stroke-width="2.0" stroke-linejoin="round"/><rect x="559.50" y="691.60" width="3.6" height="12.6" fill="#fff"/><rect x="559.50" y="706.10" width="3.6" height="3.0" fill="#fff"/><defs><clipPath id="gl"><circle cx="983.2" cy="40" r="27.3"/></clipPath></defs><g clip-path="url(#gl)"><rect x="950" y="8" width="70" height="66" fill="#7fcdea"/><polygon points="959.38,26.75 972.66,16.59 975.00,15.42 969.53,21.28 966.80,23.62" fill="#abe1ef" stroke="#31647a" stroke-width="0.3"/><polygon points="969.53,21.28 975.00,15.42 981.25,18.16 976.95,20.50" fill="#3aaadd" stroke="#31647a" stroke-width="0.3"/><polygon points="959.38,27.14 966.80,23.62 965.62,31.44 961.72,34.17" fill="#3aaadd" stroke="#31647a" stroke-width="0.3"/><polygon points="955.86,34.17 959.38,27.53 961.72,34.17" fill="#f5db6c" stroke="#31647a" stroke-width="0.3"/><polygon points="966.80,23.62 975.00,21.28 976.95,30.66 966.02,29.88" fill="#ffffff" stroke="#31647a" stroke-width="0.3"/><polygon points="965.62,30.03 973.44,31.44 976.56,31.05 977.73,33.78 966.02,33.78" fill="#ead8bf" stroke="#31647a" stroke-width="0.3"/><polygon points="961.72,34.17 965.62,31.44 966.02,34.17" fill="#abe1ef" stroke="#31647a" stroke-width="0.3"/><polygon points="976.17,20.50 981.25,18.55 980.86,20.89" fill="#f5db6c" stroke="#31647a" stroke-width="0.3"/><polygon points="975.00,21.28 980.86,20.89 981.25,30.66 978.12,25.97" fill="#abe1ef" stroke="#31647a" stroke-width="0.3"/><polygon points="975.00,21.67 978.12,26.12 980.86,29.88 976.95,30.66" fill="#3aaadd" stroke="#31647a" stroke-width="0.3"/><polygon points="977.73,31.05 980.86,30.27 980.08,34.17" fill="#f5db6c" stroke="#31647a" stroke-width="0.3"/><polygon points="981.02,12.69 982.81,12.69 982.81,34.95 980.23,34.95" fill="#ffffff" stroke="#31647a" stroke-width="0.3"/><polygon points="982.81,13.86 992.19,15.81 984.77,18.55" fill="#3aaadd" stroke="#31647a" stroke-width="0.3"/><polygon points="984.77,18.55 992.19,15.81 995.31,21.67 987.50,20.50" fill="#abe1ef" stroke="#31647a" stroke-width="0.3"/><polygon points="992.19,16.20 1000.00,20.50 1004.69,26.36 998.83,24.80 995.31,21.67" fill="#f5db6c" stroke="#31647a" stroke-width="0.3"/><polygon points="982.81,20.89 986.72,20.50 987.50,29.09 982.81,34.17" fill="#3aaadd" stroke="#31647a" stroke-width="0.3"/><polygon points="983.98,21.28 986.72,25.97 984.38,30.66" fill="#abe1ef" stroke="#31647a" stroke-width="0.3"/><polygon points="987.50,20.89 996.09,22.45 1000.00,29.09 987.50,28.70" fill="#ffffff" stroke="#31647a" stroke-width="0.3"/><polygon points="996.09,22.45 1005.08,26.75 1003.91,33.78 1000.00,29.09" fill="#3aaadd" stroke="#31647a" stroke-width="0.3"/><polygon points="987.50,28.94 1000.00,29.25 1001.56,33.78 993.75,31.44" fill="#ead8bf" stroke="#31647a" stroke-width="0.3"/><polygon points="987.50,29.09 993.75,31.44 1001.56,33.94 983.20,34.17" fill="#3aaadd" stroke="#31647a" stroke-width="0.3"/><polygon points="1005.08,27.14 1010.16,34.95 1003.91,33.78" fill="#abe1ef" stroke="#31647a" stroke-width="0.3"/><polygon points="955.86,45.50 964.84,45.50 961.72,51.75 958.59,51.75" fill="#3aaadd" stroke="#31647a" stroke-width="0.3"/><polygon points="961.72,51.75 964.45,46.28 968.75,55.66 963.28,54.09" fill="#ead8bf" stroke="#31647a" stroke-width="0.3"/><polygon points="964.84,45.50 966.80,45.50 972.27,54.88 968.75,55.66" fill="#abe1ef" stroke="#31647a" stroke-width="0.3"/><polygon points="966.80,45.34 978.12,45.34 972.66,55.27" fill="#ffffff" stroke="#31647a" stroke-width="0.3"/><polygon points="958.59,52.14 963.28,54.09 968.75,56.05 971.88,61.12 965.62,59.56" fill="#abe1ef" stroke="#31647a" stroke-width="0.3"/><polygon points="968.75,56.05 972.66,58.00 981.25,61.91 973.44,64.25 970.31,59.56" fill="#f5db6c" stroke="#31647a" stroke-width="0.3"/><polygon points="978.12,45.50 988.28,45.50 986.72,48.62 980.08,49.41" fill="#3aaadd" stroke="#31647a" stroke-width="0.3"/><polygon points="980.08,50.19 983.20,46.28 986.72,50.58" fill="#ead8bf" stroke="#31647a" stroke-width="0.3"/><polygon points="973.44,54.88 980.08,50.58 986.72,50.81 992.58,54.88 983.20,52.92" fill="#f5db6c" stroke="#31647a" stroke-width="0.3"/><polygon points="973.44,55.27 983.20,52.92 992.97,55.27 983.20,58.00" fill="#3aaadd" stroke="#31647a" stroke-width="0.3"/><polygon points="980.08,61.12 983.20,58.39 986.72,61.12 983.20,62.69" fill="#abe1ef" stroke="#31647a" stroke-width="0.3"/><polygon points="988.28,45.34 1000.00,45.34 993.36,54.88" fill="#ffffff" stroke="#31647a" stroke-width="0.3"/><polygon points="1000.00,45.50 997.66,50.19 998.83,45.50" fill="#abe1ef" stroke="#31647a" stroke-width="0.3"/><polygon points="996.88,50.19 999.61,46.67 998.83,52.53" fill="#f5db6c" stroke="#31647a" stroke-width="0.3"/><polygon points="998.44,52.92 1003.12,47.06 1005.86,52.53 1000.78,55.66" fill="#ead8bf" stroke="#31647a" stroke-width="0.3"/><polygon points="1001.17,45.50 1010.55,45.50 1007.81,51.75 1003.91,48.62" fill="#3aaadd" stroke="#31647a" stroke-width="0.3"/><polygon points="996.09,58.78 1000.78,55.66 1006.25,52.92 1003.91,57.22 999.22,61.12" fill="#abe1ef" stroke="#31647a" stroke-width="0.3"/><polygon points="985.55,61.91 992.97,58.00 996.88,56.44 996.09,60.34 989.84,63.47" fill="#f5db6c" stroke="#31647a" stroke-width="0.3"/><rect x="950" y="34.9" width="70" height="10.7" fill="#fff"/></g><text transform="translate(982.9,43.5) scale(0.575,1)" text-anchor="middle" font-size="10.2" font-weight="700" fill="#f0912a" stroke="#f0912a" stroke-width="0.55">OPEN DATA WATCH</text><text transform="translate(832.3,51.7) scale(1.15,1)" font-size="27.5" fill="#4a4a4a" letter-spacing="0.2">data</text><text transform="translate(896.6,51.7) scale(0.93,1)" font-size="28" fill="#e8512d">2</text><path d="M913,51.9 L927.2,37.6 M913.3,38.5 L927.2,52" stroke="#e8512d" stroke-width="2.1" fill="none"/><circle cx="932" cy="32.75" r="6.8" stroke="#e8512d" stroke-width="1.7" fill="none"/></svg>
</div></body></html>
